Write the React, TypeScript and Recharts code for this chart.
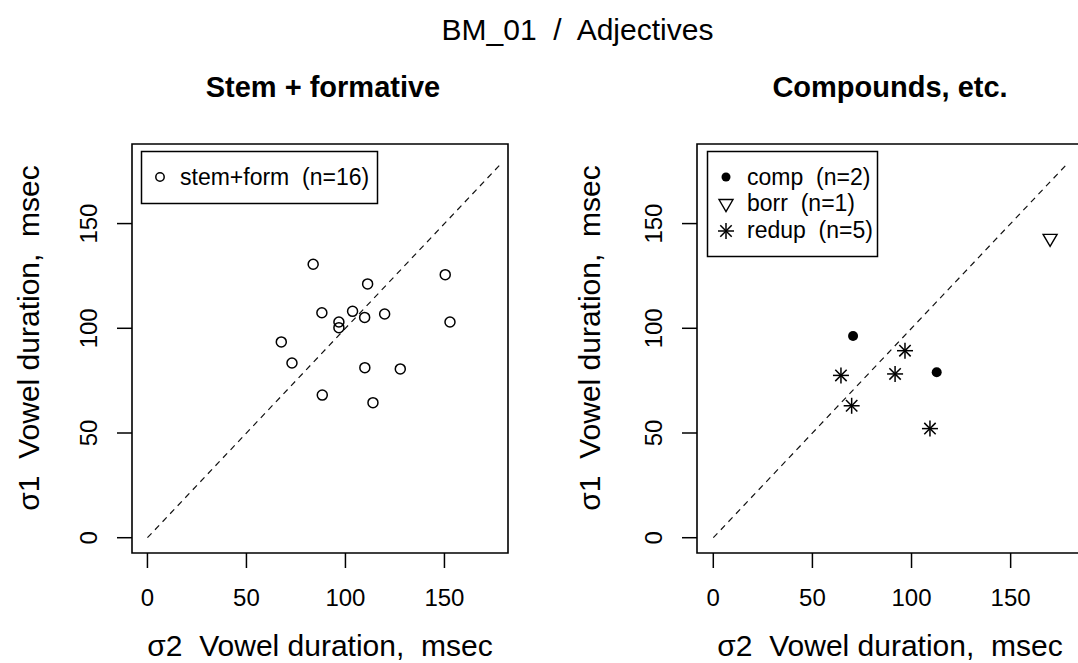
import React from "react";
import { ScatterChart, Scatter, XAxis, YAxis, ReferenceLine, ReferenceArea } from "recharts";

const FONT = "'Liberation Sans', Arial, Helvetica, sans-serif";

// left panel: stem + formative
const stemX = [83.7, 150.4, 111.2, 88.1, 103.6, 109.7, 119.8, 152.8, 96.7, 96.7, 67.6, 73.0, 109.8, 127.7, 88.3, 113.9];
const stemY = [130.6, 125.6, 121.2, 107.4, 108.1, 105.2, 106.8, 103.0, 103.0, 100.3, 93.5, 83.4, 81.2, 80.6, 68.1, 64.5];

// right panel: compounds etc.
const compX = [70.5, 112.7];
const compY = [96.3, 79.0];
const borrX = [169.9];
const borrY = [142.2];
const redupX = [64.4, 96.7, 91.7, 69.8, 109.3];
const redupY = [77.5, 89.3, 78.2, 63.0, 52.1];

const TICKS = [0, 50, 100, 150];
const DIAG = [0, 178];

const toPoints = (xs: number[], ys: number[]) => xs.map((x, i) => ({ x, y: ys[i] }));

const OpenCircle = (p: any) => (
  <circle cx={p.cx} cy={p.cy} r={p.r ?? 5} fill="none" stroke="#000" strokeWidth={1.5} />
);
const Dot = (p: any) => <circle cx={p.cx} cy={p.cy} r={p.r ?? 5} fill="#000" />;
const DownTri = (p: any) => {
  const { cx, cy } = p;
  return (
    <polygon
      points={`${cx - 7},${cy - 5.5} ${cx + 7},${cy - 5.5} ${cx},${cy + 6.5}`}
      fill="none"
      stroke="#000"
      strokeWidth={1.4}
    />
  );
};
const Star = (p: any) => {
  const { cx, cy } = p;
  const a = 8;
  const d = 5.7;
  return (
    <g stroke="#000" strokeWidth={1.5}>
      <line x1={cx - a} y1={cy} x2={cx + a} y2={cy} />
      <line x1={cx} y1={cy - a} x2={cx} y2={cy + a} />
      <line x1={cx - d} y1={cy - d} x2={cx + d} y2={cy + d} />
      <line x1={cx - d} y1={cy + d} x2={cx + d} y2={cy - d} />
    </g>
  );
};

const YTick = (p: any) => (
  <text
    x={p.x}
    y={p.y}
    transform={`rotate(-90 ${p.x} ${p.y})`}
    textAnchor="middle"
    fontSize={24}
    fontFamily={FONT}
    fill="#000"
  >
    {p.payload.value}
  </text>
);

const Y_DOMAIN: [number, number] = [-7.3, 188];

function Panel({ left, width, yWidth, rightMargin, xDomain, children }: any) {
  return (
    <div style={{ position: "absolute", left, top: 0 }}>
      <ScatterChart width={width} height={663} margin={{ top: 144, right: rightMargin, bottom: 0, left: 0 }}>
        <XAxis
          type="number"
          dataKey="x"
          domain={xDomain}
          allowDataOverflow
          ticks={TICKS}
          height={110}
          axisLine={false}
          tickSize={15}
          tickMargin={21}
          tickLine={{ stroke: "#000", strokeWidth: 1.5 }}
          tick={{ fill: "#000", fontSize: 24, fontFamily: FONT }}
        />
        <YAxis
          type="number"
          dataKey="y"
          domain={Y_DOMAIN}
          allowDataOverflow
          ticks={TICKS}
          width={yWidth}
          axisLine={false}
          tickSize={15}
          tickMargin={20}
          tickLine={{ stroke: "#000", strokeWidth: 1.5 }}
          tick={<YTick />}
        />
        <ReferenceArea
          x1={xDomain[0]}
          x2={xDomain[1]}
          y1={Y_DOMAIN[0]}
          y2={Y_DOMAIN[1]}
          fill="none"
          stroke="#000"
          strokeWidth={1.6}
          ifOverflow="visible"
        />
        <ReferenceLine
          segment={[
            { x: DIAG[0], y: DIAG[0] },
            { x: DIAG[1], y: DIAG[1] },
          ]}
          stroke="#111"
          strokeWidth={1.2}
          strokeDasharray="6 5"
          ifOverflow="visible"
        />
        {children}
      </ScatterChart>
    </div>
  );
}

const txt = { fontFamily: FONT, fill: "#000", whiteSpace: "pre" as const };

export default function App() {
  return (
    <div
      style={{
        position: "absolute",
        left: 0,
        top: 0,
        width: 1078,
        height: 663,
        overflow: "hidden",
        background: "#fff",
      }}
    >
      <Panel left={0} width={540} yWidth={132} rightMargin={32} xDomain={[-7.8, 182.1]}>
        <Scatter data={toPoints(stemX, stemY)} shape={OpenCircle} isAnimationActive={false} />
      </Panel>
      <Panel left={560} width={523} yWidth={137} rightMargin={0} xDomain={[-8.22, 186.5]}>
        <Scatter data={toPoints(compX, compY)} shape={Dot} isAnimationActive={false} />
        <Scatter data={toPoints(borrX, borrY)} shape={DownTri} isAnimationActive={false} />
        <Scatter data={toPoints(redupX, redupY)} shape={Star} isAnimationActive={false} />
      </Panel>

      <svg width={1078} height={663} style={{ position: "absolute", left: 0, top: 0, pointerEvents: "none" }}>
        <text x={577.5} y={40} textAnchor="middle" fontSize={30} style={txt}>
          {"BM_01  /  Adjectives"}
        </text>
        <text x={323} y={97} textAnchor="middle" fontSize={29} fontWeight="bold" style={txt}>
          Stem + formative
        </text>
        <text x={890} y={97} textAnchor="middle" fontSize={29} fontWeight="bold" style={txt}>
          Compounds, etc.
        </text>

        <text x={320} y={656} textAnchor="middle" fontSize={30} style={txt}>
          {"σ2  Vowel duration,  msec"}
        </text>
        <text x={890} y={656} textAnchor="middle" fontSize={30} style={txt}>
          {"σ2  Vowel duration,  msec"}
        </text>
        <text x={39} y={338} transform="rotate(-90 39 338)" textAnchor="middle" fontSize={30} style={txt}>
          {"σ1  Vowel duration,  msec"}
        </text>
        <text x={600} y={338} transform="rotate(-90 600 338)" textAnchor="middle" fontSize={30} style={txt}>
          {"σ1  Vowel duration,  msec"}
        </text>

        {/* legend, left panel */}
        <rect x={141.5} y={151.5} width={236} height={52} fill="#fff" stroke="#000" strokeWidth={1.5} />
        <OpenCircle cx={160} cy={177} r={4.2} />
        <text x={180} y={185} fontSize={23} style={txt}>
          {"stem+form  (n=" + stemX.length + ")"}
        </text>

        {/* legend, right panel */}
        <rect x={707.5} y={151.5} width={170} height={105} fill="#fff" stroke="#000" strokeWidth={1.5} />
        <Dot cx={726} cy={177} r={4.5} />
        <text x={747} y={185} fontSize={23} style={txt}>
          {"comp  (n=" + compX.length + ")"}
        </text>
        <DownTri cx={726} cy={205} />
        <text x={747} y={211} fontSize={23} style={txt}>
          {"borr  (n=" + borrX.length + ")"}
        </text>
        <Star cx={726} cy={231} />
        <text x={747} y={238} fontSize={23} style={txt}>
          {"redup  (n=" + redupX.length + ")"}
        </text>
      </svg>
    </div>
  );
}
